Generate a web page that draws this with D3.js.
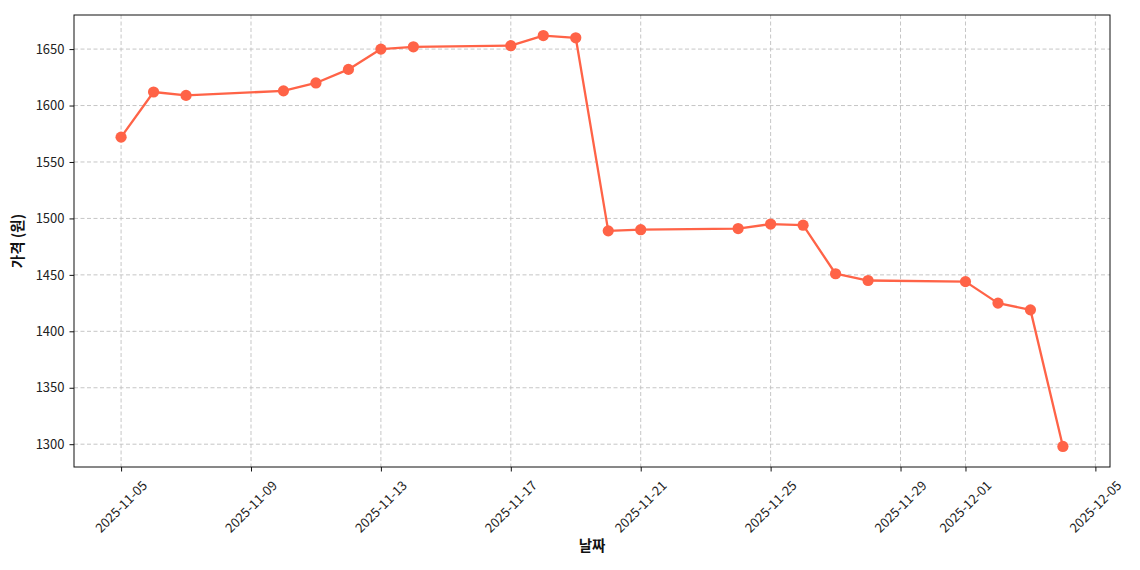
<!DOCTYPE html>
<html><head><meta charset="utf-8">
<script src="https://cdn.jsdelivr.net/npm/d3@7"></script>
<style>
body{margin:0;background:#fff;}
svg{display:block;}
text{font-family:"Noto Sans CJK KR","Noto Sans",sans-serif;}
</style></head>
<body><svg id="c" width="1140" height="570"></svg>
<script>
const dates = ["2025-11-05","2025-11-06","2025-11-07","2025-11-10","2025-11-11","2025-11-12","2025-11-13","2025-11-14","2025-11-17","2025-11-18","2025-11-19","2025-11-20","2025-11-21","2025-11-24","2025-11-25","2025-11-26","2025-11-27","2025-11-28","2025-12-01","2025-12-02","2025-12-03","2025-12-04"];
const prices = [1572,1612,1609,1613,1620,1632,1650,1652,1653,1662,1660,1489,1490,1491,1495,1494,1451,1445,1444,1425,1419,1298];
const xTicks = ["2025-11-05","2025-11-09","2025-11-13","2025-11-17","2025-11-21","2025-11-25","2025-11-29","2025-12-01","2025-12-05"];
const yTicks = [1300,1350,1400,1450,1500,1550,1600,1650];
const xLabel = "날짜";
const yLabel = "가격 (원)";

const parse = d3.utcParse("%Y-%m-%d");
const fmt = d3.utcFormat("%Y-%m-%d");
const data = dates.map((d,i)=>({t:parse(d), v:prices[i]}));

const L=74, R=1110, T=15, B=467;
const svg = d3.select("#c");

const tExt = d3.extent(data, d=>d.t);
const tPad = (tExt[1]-tExt[0])*0.05;
const vExt = d3.extent(data, d=>d.v);
const vPad = (vExt[1]-vExt[0])*0.05;
const x = d3.scaleUtc().domain([new Date(+tExt[0]-tPad), new Date(+tExt[1]+tPad)]).range([L,R]);
const y = d3.scaleLinear().domain([vExt[0]-vPad, vExt[1]+vPad]).range([B,T]);

const xt = xTicks.map(parse);
const g = svg.append("g");
g.selectAll("line.gx").data(xt).join("line")
  .attr("x1",d=>x(d)).attr("x2",d=>x(d)).attr("y1",T).attr("y2",B)
  .attr("stroke","#c6c6c6").attr("stroke-width",1).attr("stroke-dasharray","4,2.5");
g.selectAll("line.gy").data(yTicks).join("line")
  .attr("x1",L).attr("x2",R).attr("y1",d=>y(d)).attr("y2",d=>y(d))
  .attr("stroke","#c6c6c6").attr("stroke-width",1).attr("stroke-dasharray","4,2.5");

const xa = svg.append("g").attr("transform",`translate(0,${B})`)
  .call(d3.axisBottom(x).tickValues(xt).tickSize(4.5).tickFormat(""));
const ya = svg.append("g").attr("transform",`translate(${L},0)`)
  .call(d3.axisLeft(y).tickValues(yTicks).tickSize(4.5).tickPadding(5).tickFormat(d3.format("d")));
[xa,ya].forEach(a=>{a.select(".domain").remove(); a.selectAll(".tick line").attr("stroke","#111").attr("stroke-width",1);});
ya.selectAll(".tick text").attr("font-size",13).attr("fill","#222").attr("font-family","\"Noto Sans\",sans-serif");

xa.selectAll(".tick").append("text").text(d=>fmt(d))
  .attr("font-family","\"Noto Sans\",sans-serif")
  .attr("font-size",13).attr("fill","#222")
  .attr("text-anchor","middle").attr("dominant-baseline","central")
  .attr("transform","translate(-1,39) rotate(-45)");

svg.append("rect").attr("x",L).attr("y",T).attr("width",R-L).attr("height",B-T)
  .attr("fill","none").attr("stroke","#111").attr("stroke-width",1);

const line = d3.line().x(d=>x(d.t)).y(d=>y(d.v));
svg.append("path").datum(data).attr("d",line).attr("fill","none")
  .attr("stroke","#FF6347").attr("stroke-width",2.3).attr("stroke-linejoin","round");
svg.selectAll("circle.pt").data(data).join("circle")
  .attr("cx",d=>x(d.t)).attr("cy",d=>y(d.v)).attr("r",5.6).attr("fill","#FF6347");

svg.append("text").text(xLabel).attr("x",(L+R)/2).attr("y",551)
  .attr("text-anchor","middle").attr("font-size",14.5).attr("font-weight","bold").attr("fill","#111");
svg.append("text").text(yLabel).attr("transform",`translate(23,${(T+B)/2}) rotate(-90)`)
  .attr("text-anchor","middle").attr("font-size",14.5).attr("font-weight","bold").attr("fill","#111");
</script></body></html>
